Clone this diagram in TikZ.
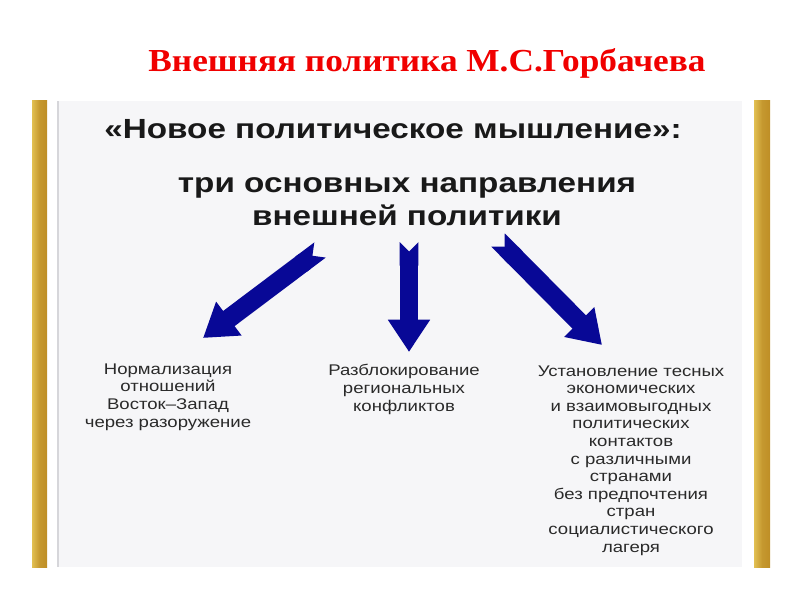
\documentclass[tikz,border=0pt]{standalone}
\usepackage{fontspec}
\setmainfont{Liberation Sans}
\newfontfamily\titlefont[FakeStretch=1.1]{Liberation Serif}
\newfontfamily\widesans[FakeStretch=1.2]{Liberation Sans}
\usepackage{tikz}
\usetikzlibrary{arrows.meta,positioning}
\usepackage{xcolor}
\definecolor{gbred}{RGB}{240,0,0}
\definecolor{gbgold}{RGB}{190,142,38}
\definecolor{gbgoldlight}{RGB}{226,192,82}
\definecolor{gbpanel}{RGB}{246,246,248}
\definecolor{gbedge}{RGB}{214,214,218}
\definecolor{gbnavy}{RGB}{8,8,150}
\definecolor{gbtext}{RGB}{42,42,42}
\tikzstyle{headline} = [text=gbred, font=\titlefont\bfseries\fontsize{22.8}{26}\selectfont, inner sep=0pt, anchor=base]
\tikzstyle{heading} = [text=black!90, align=center, font=\widesans\bfseries\fontsize{19.7}{22.8}\selectfont, inner sep=0pt, anchor=base]
\tikzstyle{item} = [text=gbtext, align=center, font=\widesans\fontsize{11}{12.5}\selectfont, inner sep=0pt, anchor=base]
\tikzstyle{bigarrow} = [line width=13.5pt, gbnavy, {Triangle Cap[reversed]}-{Triangle[width=28.5pt,length=23pt]}]
\tikzstyle{goldbar} = [left color=gbgoldlight, right color=gbgold, middle color=gbgold!80!gbgoldlight]

\begin{document}
\begin{tikzpicture}[x=0.025cm, y=-0.025cm]
\useasboundingbox (0,0) rectangle (800,600);

% Frame and panel
\shade[goldbar] (32,100) rectangle (47,567);
\shade[goldbar] (754,100) rectangle (770,567);
\fill[gbpanel] (58,101) rectangle (742,567);
\draw[gbedge, line width=0.8pt] (58,101) -- (58,567);

% Titles (base = last line)
\node[headline] (title) at (427,71) {Внешняя политика М.С.Горбачева};
\node[heading] (thinking) at (393,138) {«Новое политическое мышление»:};
\node[heading] (directions) at (407,225) {три основных направления\\внешней политики};

% The three directions
\node[item] (disarm) at (168,427) {Нормализация\\отношений\\Восток–Запад\\через разоружение};
\node[item] (conflicts) at (404,411) {Разблокирование\\региональных\\конфликтов};
\node[item] (contacts) at (631,552) {Установление тесных\\экономических\\и взаимовыгодных\\политических\\контактов\\с различными\\странами\\без предпочтения\\стран\\социалистического\\лагеря};

% Arrows
\coordinate (lfrom) at (320,250);
\coordinate (lto) at (203,338);
\coordinate (mfrom) at (409,242);
\coordinate (mto) at (409,352);
\coordinate (rfrom) at (498,240);
\coordinate (rto) at (602,345);
\draw[bigarrow] (lfrom) -- (lto);
\draw[bigarrow] (mfrom) -- (mto);
\draw[bigarrow] (rfrom) -- (rto);
\end{tikzpicture}
\end{document}
